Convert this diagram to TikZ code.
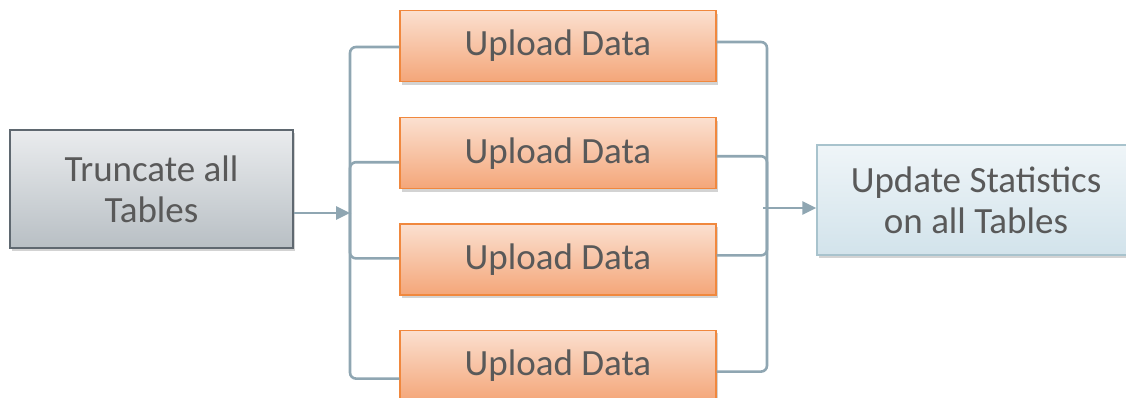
\documentclass[tikz,border=0pt]{standalone}
\usepackage{fontspec}
\setmainfont{Carlito}
\usepackage{tikz}
\definecolor{txtgray}{HTML}{595959}
\definecolor{wire}{HTML}{8FA6B2}
\tikzstyle{box}=[rectangle,draw,line width=0.6pt,align=center,text=txtgray,
font=\fontsize{18.5}{20.5}\selectfont,inner sep=0pt,
drop shadow={shadow xshift=1pt,shadow yshift=-1.5pt,opacity=0.35}]
\tikzstyle{grey}=[box,draw={rgb,255:red,95;green,104;blue,112},
top color={rgb,255:red,234;green,236;blue,238},bottom color={rgb,255:red,184;green,191;blue,196},
minimum width=141.5pt,minimum height=59pt]
\tikzstyle{orange}=[box,draw={rgb,255:red,240;green,136;blue,62},
top color={rgb,255:red,251;green,224;blue,208},bottom color={rgb,255:red,244;green,166;blue,121},
minimum width=158pt,minimum height=35.5pt]
\tikzstyle{blue}=[box,draw={rgb,255:red,168;green,195;blue,205},
top color={rgb,255:red,239;green,245;blue,248},bottom color={rgb,255:red,210;green,227;blue,235},
minimum width=159pt,minimum height=55pt]
\tikzstyle{wire}=[draw=wire,line width=1.3pt,rounded corners=3pt]
\usetikzlibrary{arrows.meta,positioning,shadows}

\begin{document}
\begin{tikzpicture}[x=0.5pt,y=-0.5pt,node distance=17.5pt,>={Triangle[length=7pt,width=6.5pt]}]
            \useasboundingbox (0,0) rectangle (1126,397);

            % TRUNCATE PART

            \node[grey] (t1) at (151.5,189) {Truncate all\\Tables};
            \coordinate (c1) at (350,213);

            \draw[wire,->] ([yshift=-12pt]t1.east) -- (c1);

            % UPLOAD PART

            \node[orange] (u1) at (558,46) {Upload Data};
            \node[orange, below=of u1] (u2) {Upload Data};
            \node[orange, below=17pt of u2] (u3) {Upload Data};
            \node[orange, below=17pt of u3] (u4) {Upload Data};

            \draw[wire] (c1) |- ([yshift=-0.5pt]u1.west);
            \draw[wire] (c1) |- ([yshift=-4.5pt]u2.west);
            \draw[wire] (c1) |- ([yshift=0.5pt]u3.west);
            \draw[wire] (c1) |- ([yshift=-6.5pt]u4.west);

            % STATISTICS PART

            \node[blue] (s1) at (976,200) {Update Statistics\\on all Tables};
            \coordinate (c2) at (767,208);

            \draw[wire] ([yshift=2pt]u1.east) -| (c2);
            \draw[wire] ([yshift=-1.5pt]u2.east) -| (c2);
            \draw[wire] ([yshift=2pt]u3.east) -| (c2);
            \draw[wire] ([yshift=-3pt]u4.east) -| (c2);

            \draw[wire,->] ([xshift=-2pt]c2) -- ([yshift=-4pt]s1.west);

\end{tikzpicture}
\end{document}
